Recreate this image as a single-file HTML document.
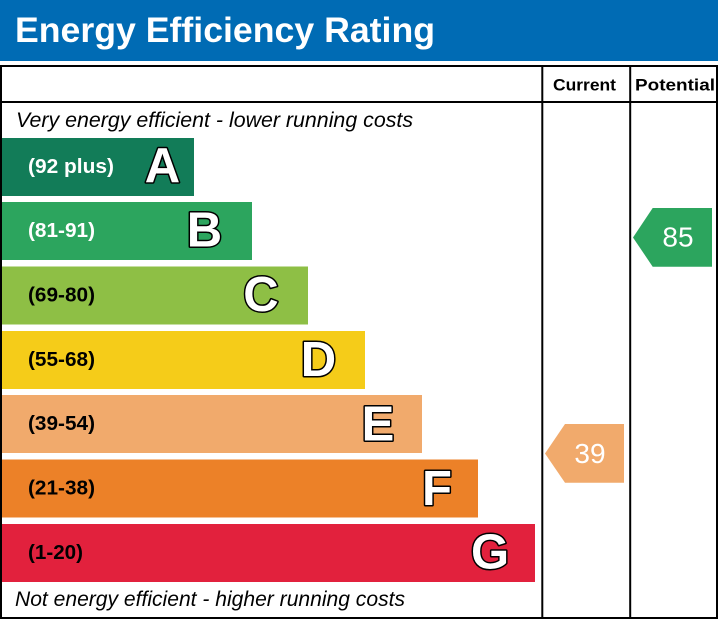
<!DOCTYPE html>
<html>
<head>
<meta charset="utf-8">
<style>
  html,body{margin:0;padding:0;background:#fff;}
  body{width:718px;height:619px;overflow:hidden;}
  svg{display:block;}
  text{font-family:"Liberation Sans", Arial, sans-serif;}
</style>
</head>
<body>
<svg width="718" height="619" viewBox="0 0 718 619" xmlns="http://www.w3.org/2000/svg">
  <!-- Header bar -->
  <rect x="0" y="0" width="718" height="61" fill="#006bb4"/>
  <text x="15" y="42" font-size="35.5" font-weight="bold" fill="#fff" textLength="420" lengthAdjust="spacingAndGlyphs">Energy Efficiency Rating</text>

  <!-- Bars -->
  <rect x="2" y="138" width="192" height="58" fill="#127c58"/>
  <rect x="2" y="202" width="250" height="58" fill="#2ca55e"/>
  <rect x="2" y="266.5" width="306" height="58" fill="#8ebf45"/>
  <rect x="2" y="331" width="363" height="58" fill="#f5cc19"/>
  <rect x="2" y="395" width="420" height="58" fill="#f1aa6c"/>
  <rect x="2" y="459.5" width="476" height="58" fill="#ec8128"/>
  <rect x="2" y="524" width="533" height="58" fill="#e2213d"/>

  <!-- Band labels -->
  <g font-size="20" font-weight="bold">
    <text x="28" y="173" fill="#fff" textLength="86" lengthAdjust="spacingAndGlyphs">(92 plus)</text>
    <text x="28" y="237" fill="#fff" textLength="67" lengthAdjust="spacingAndGlyphs">(81-91)</text>
    <text x="28" y="301.5" fill="#000" textLength="67" lengthAdjust="spacingAndGlyphs">(69-80)</text>
    <text x="28" y="366" fill="#000" textLength="67" lengthAdjust="spacingAndGlyphs">(55-68)</text>
    <text x="28" y="430" fill="#000" textLength="67" lengthAdjust="spacingAndGlyphs">(39-54)</text>
    <text x="28" y="494.5" fill="#000" textLength="67" lengthAdjust="spacingAndGlyphs">(21-38)</text>
    <text x="28" y="559" fill="#000" textLength="55" lengthAdjust="spacingAndGlyphs">(1-20)</text>
  </g>

  <!-- Band letters -->
  <g font-size="49" font-weight="bold" fill="#fff" stroke="#000" stroke-width="3" paint-order="stroke" stroke-linejoin="round" text-anchor="middle">
    <text x="162.5" y="182">A</text>
    <text x="204.5" y="246.5">B</text>
    <text x="261" y="311">C</text>
    <text x="318.5" y="376">D</text>
    <text x="378" y="440.5">E</text>
    <text x="437" y="505">F</text>
    <text x="490" y="568.5">G</text>
  </g>

  <!-- Top / bottom captions -->
  <text x="16" y="127" font-size="21" font-style="italic" fill="#000" textLength="397" lengthAdjust="spacingAndGlyphs">Very energy efficient - lower running costs</text>
  <text x="15" y="606" font-size="21" font-style="italic" fill="#000" textLength="390" lengthAdjust="spacingAndGlyphs">Not energy efficient - higher running costs</text>

  <!-- Column headers -->
  <text x="553" y="90.5" font-size="17" font-weight="bold" fill="#000" textLength="63" lengthAdjust="spacingAndGlyphs">Current</text>
  <text x="635" y="90.5" font-size="17" font-weight="bold" fill="#000" textLength="80" lengthAdjust="spacingAndGlyphs">Potential</text>

  <!-- Arrows -->
  <polygon points="545,453.5 565,424 624,424 624,482.7 565,482.7" fill="#f1aa6c"/>
  <text x="590" y="463" font-size="28" fill="#fff" text-anchor="middle">39</text>
  <polygon points="633,237.5 652.7,208 712,208 712,266.7 652.7,266.7" fill="#2ca55e"/>
  <text x="678" y="246.5" font-size="28" fill="#fff" text-anchor="middle">85</text>

  <!-- Table lines -->
  <rect x="1" y="66" width="716" height="552" fill="none" stroke="#000" stroke-width="2"/>
  <line x1="2" y1="102" x2="717" y2="102" stroke="#000" stroke-width="2"/>
  <line x1="542.3" y1="66" x2="542.3" y2="618" stroke="#000" stroke-width="2"/>
  <line x1="630.2" y1="66" x2="630.2" y2="618" stroke="#000" stroke-width="2"/>
</svg>
</body>
</html>
